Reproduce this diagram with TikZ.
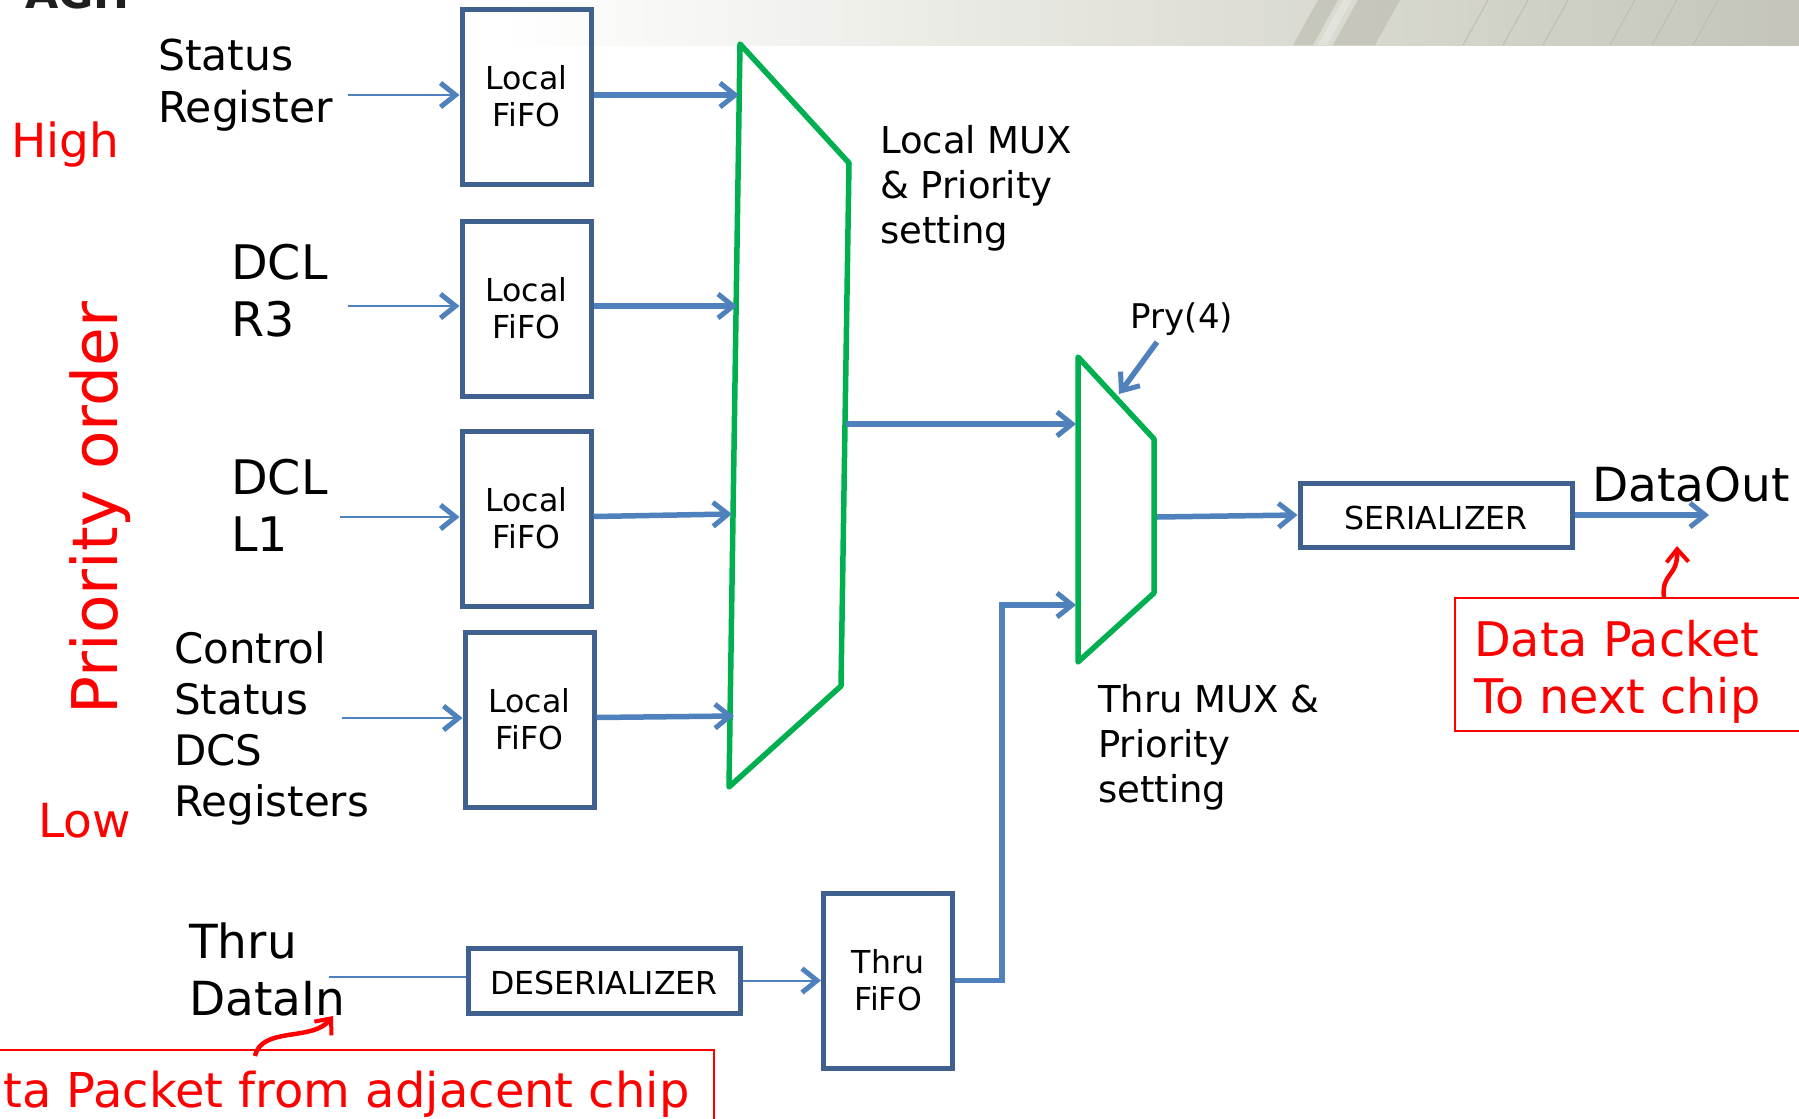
\documentclass[tikz,border=0pt]{standalone}
\usepackage{fontspec}
\setmainfont{DejaVu Sans}
\usetikzlibrary{arrows.meta,calc}
\definecolor{boxblue}{HTML}{40608F}
\definecolor{arrowblue}{HTML}{4F81BD}
\definecolor{muxgreen}{HTML}{00B050}
\definecolor{hdrgrey}{RGB}{196,197,184}
\definecolor{hdrmid}{RGB}{228,228,221}
\definecolor{stripe}{RGB}{186,187,172}
\begin{document}
\begin{tikzpicture}[x=1pt,y=-1pt,
  fs/.style 2 args={font=\fontsize{#1}{#2}\selectfont},
  fifo/.style={draw=boxblue, line width=5pt, minimum width=129pt, minimum height=175pt, inner sep=0pt, align=center, fs={31.6}{37}},
  widebox/.style={draw=boxblue, line width=5pt, minimum width=272pt, minimum height=64pt, inner sep=0pt, text height=28pt, text depth=0pt, fs={31.6}{37}},
  thinarr/.style={draw=arrowblue, line width=2pt, -{Straight Barb[length=15pt,width=24pt,line width=5pt 0]}},
  thickarr/.style={draw=arrowblue, line width=5.5pt, -{Straight Barb[length=15pt,width=24pt,line width=5pt 0]}},
  plainline/.style={draw=arrowblue, line width=2pt},
  muxshape/.style={draw=muxgreen, line width=5.5pt, line join=round},
  lbl/.style={anchor=west, align=left, inner sep=0pt},
  redlbl/.style={lbl, text=red},
  redbox/.style={draw=red, line width=1.5pt},
  redarr/.style={draw=red, line width=4.5pt, -{Straight Barb[length=13pt,width=22pt,line width=4pt 0]}}
]
\useasboundingbox (0,0) rectangle (1799,1119);
\fill[white] (0,0) rectangle (1799,1119);

% header band
\begin{scope}
  \clip (0,0) rectangle (1799,45);
  \shade[left color=white, right color=white] (0,0) rectangle (500,45);
  \shade[left color=white, right color=hdrmid] (499,0) rectangle (1100,45);
  \shade[left color=hdrmid, right color=hdrgrey] (1099,0) rectangle (1799,45);
  \fill[stripe, opacity=0.6] (1293,45) -- (1318,0) -- (1338,0) -- (1313,45) -- cycle;
  \fill[stripe, opacity=0.6] (1333,45) -- (1358,0) -- (1400,0) -- (1375,45) -- cycle;
  \fill[white, opacity=0.25] (1318,45) -- (1343,0) -- (1352,0) -- (1327,45) -- cycle;
  \foreach \xx in {1463,1503,1543,1610,1652,1693}
    \draw[stripe, line width=0.8pt] (\xx,45) -- (\xx+25,0);
  \node[anchor=base west, inner sep=0pt, text={rgb,255:red,30;green,30;blue,30}, font=\fontsize{43}{43}\selectfont\bfseries] (agh) at (25,8) {AGH};
\end{scope}

% local fifos
\node[fifo] (f1) at (526.5,96.5) {Local\\FiFO};
\node[fifo] (f2) at (526.5,308.5) {Local\\FiFO};
\node[fifo] (f3) at (526.5,518.5) {Local\\FiFO};
\node[fifo] (f4) at (529.5,719.5) {Local\\FiFO};

% labels left
\node[lbl, fs={42.5}{52}] (lsr) at (158,85) {Status\\Register};
\node[redlbl, fs={47}{56}] (high) at (11,145) {High};
\node[lbl, fs={47.6}{57}] (ldr3) at (231,291) {DCL\\R3};
\node[lbl, fs={47.6}{57}] (ldl1) at (231,505) {DCL\\L1};
\node[lbl, fs={42}{51}] (lcs) at (174,728) {Control\\Status\\DCS\\Registers};
\node[redlbl, fs={47}{56}] (low) at (38,821) {Low};
\node[text=red, inner sep=0pt, rotate=90, fs={63}{70}] (prio) at (100,508) {Priority order};
\node[lbl, fs={47}{57}] (ldin) at (189,969) {Thru\\DataIn};

% input arrows
\coordinate (i1) at (348,95);
\coordinate (i2) at (348,306);
\coordinate (i3) at (340,517);
\coordinate (i4) at (342,718);
\draw[thinarr] (i1) -- (i1 -| f1.west);
\draw[thinarr] (i2) -- (i2 -| f2.west);
\draw[thinarr] (i3) -- (i3 -| f3.west);
\draw[thinarr] (i4) -- (i4 -| f4.west);

% local mux
\coordinate (lm1) at (740,44);
\coordinate (lm2) at (849,163);
\coordinate (lm3) at (841,686);
\coordinate (lm4) at (729,787);
\draw[muxshape] (lm1) -- (lm2) -- (lm3) -- (lm4) -- cycle;
\coordinate (m1) at (739,95);
\coordinate (m2) at (737,306);
\coordinate (m3) at (732,514);
\coordinate (m4) at (734,716);
\draw[thickarr] (f1.east |- m1) -- (m1);
\draw[thickarr] (f2.east |- m2) -- (m2);
\draw[thickarr] (f3.east) ++(0,-2) -- (m3);
\draw[thickarr] (f4.east) ++(0,-2) -- (m4);
\node[lbl, fs={37}{45}] (lmuxlbl) at (880,188) {Local MUX\\\& Priority\\setting};

% thru mux
\coordinate (tm1) at (1078,357);
\coordinate (tm2) at (1154,439);
\coordinate (tm3) at (1154,593);
\coordinate (tm4) at (1078,662);
\draw[muxshape] (tm1) -- (tm2) -- (tm3) -- (tm4) -- cycle;
\coordinate (lmout) at (846,424);
\coordinate (tin1) at (1076,424);
\coordinate (tin2) at (1076,605);
\draw[thickarr] (lmout) -- (tin1);
\node[inner sep=0pt, fs={34}{40}] (pry) at (1182,319.5) {Pry(4)};
\coordinate (prys) at (1157,342);
\coordinate (prye) at (1119,394);
\draw[thickarr] (prys) -- (prye);
\node[lbl, fs={37}{45}] (tmuxlbl) at (1098,747.5) {Thru MUX \&\\Priority\\setting};

% serializer and output
\node[widebox] (ser) at (1436,515) {SERIALIZER};
\coordinate (tmout) at (1157,517);
\draw[thickarr] (tmout) -- (ser.west);
\coordinate (dout) at (1709,515);
\draw[thickarr] (ser.east) -- (dout);
\node[lbl, fs={47}{56}] (doutlbl) at (1592,484) {DataOut};

% red annotation right
\draw[redbox] (1455,598) rectangle (1810,731);
\node[redlbl, fs={47.7}{57}] (nextchip) at (1474,671.5) {Data Packet\\To next chip};
\coordinate (ra1) at (1664,598);
\coordinate (ra2) at (1677,546);
\draw[redarr] (ra1) .. controls (1661,572) and (1678,578) .. (ra2);

% thru path
\node[widebox, minimum height=65pt] (deser) at (604,980.5) {DESERIALIZER};
\node[fifo] (tf) at (888,980.5) {Thru\\FiFO};
\coordinate (din) at (329,977);
\draw[plainline] (din) -- (deser.west |- din);
\draw[thinarr] (deser.east) -- (tf.west);
\draw[thickarr] (tf.east) -- ++(47,0) |- (tin2);

% red annotation bottom
\draw[redbox] (-10,1050) rectangle (714,1130);
\node[redlbl, fs={48}{56}] (adjchip) at (3,1094.5) {ta Packet from adjacent chip};
\coordinate (rb1) at (255,1056);
\coordinate (rb2) at (333,1016);
\draw[redarr] (rb1) .. controls (262,1026) and (312,1042) .. (rb2);
\end{tikzpicture}
\end{document}
